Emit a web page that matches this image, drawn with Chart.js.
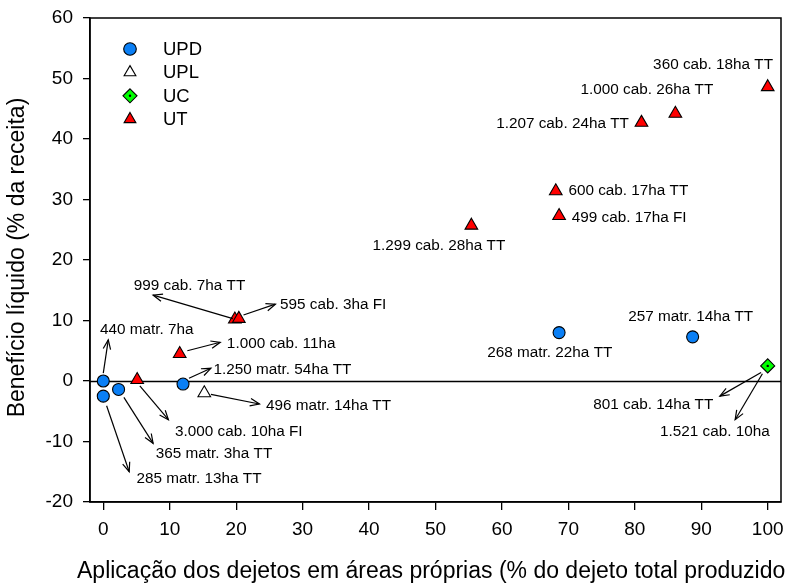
<!DOCTYPE html>
<html>
<head>
<meta charset="utf-8">
<script src="https://cdn.jsdelivr.net/npm/chart.js@4/dist/chart.umd.min.js"></script>
<style>
html,body{margin:0;padding:0;background:#fff;}
#wrap{width:790px;height:583px;}
</style>
</head>
<body>
<div id="wrap"><canvas id="c" width="790" height="583"></canvas></div>
<script>
// ---- data ----
const xTicks = [0, 10, 20, 30, 40, 50, 60, 70, 80, 90, 100];
const yTicks = [-20, -10, 0, 10, 20, 30, 40, 50, 60];
const seriesNames = ['UPD', 'UPL', 'UC', 'UT'];

const updX = [0, 0, 2.3, 12.0, 68.6, 88.7];
const updY = [0, -2.5, -1.4, -0.5, 8.0, 7.3];
const uplX = [15.2];
const uplY = [-2.0];
const ucX = [100];
const ucY = [2.5];
const utX = [5.1, 11.5, 19.8, 20.4, 55.4, 68.1, 68.6, 81.0, 86.1, 100];
const utY = [0.2, 4.5, 10.2, 10.3, 25.7, 31.4, 27.3, 42.7, 44.2, 48.6];

const xTitle = 'Aplicação dos dejetos em áreas próprias (% do dejeto total produzido';
const yTitle = 'Benefício líquido (% da receita)';

// point labels (text anchor in data units) and arrows (tail -> head, data units)
const noteText = ['360 cab. 18ha TT', '1.000 cab. 26ha TT', '1.207 cab. 24ha TT', '600 cab. 17ha TT',
  '499 cab. 17ha FI', '1.299 cab. 28ha TT', '999 cab. 7ha TT', '595 cab. 3ha FI', '440 matr. 7ha',
  '1.000 cab. 11ha', '1.250 matr. 54ha TT', '496 matr. 14ha TT', '3.000 cab. 10ha FI',
  '365 matr. 3ha TT', '285 matr. 13ha TT', '268 matr. 22ha TT', '257 matr. 14ha TT',
  '801 cab. 14ha TT', '1.521 cab. 10ha'];
const noteX = [100.8, 91.8, 79.1, 70.0, 70.5, 60.5, 4.6, 26.6, -0.5, 18.6, 16.6, 24.5, 10.8, 7.9, 5.0, 57.8, 79.0, 91.8, 100.3];
const noteY = [52.2, 48.2, 42.5, 31.4, 26.9, 22.4, 15.75, 12.6, 8.5, 6.2, 1.9, -4.1, -8.4, -12.1, -16.2, 4.6, 10.6, -4.0, -8.4];
const noteAlign = ['right', 'right', 'right', 'left', 'left', 'right', 'left', 'left', 'left', 'left', 'left', 'left', 'left', 'left', 'left', 'left', 'left', 'right', 'right'];
const arrowFromX = [null, null, null, null, null, null, 19.5, 21.1, 0.0, 12.65, 12.9, 16.2, 5.5, 3.1, 0.5, null, null, 99.0, 99.2];
const arrowFromY = [null, null, null, null, null, null, 10.3, 10.9, 1.3, 5.0, 0.45, -2.2, -0.8, -2.7, -4.1, null, null, 1.4, 1.2];
const arrowToX = [null, null, null, null, null, null, 7.5, 25.9, 0.75, 17.6, 16.2, 23.5, 9.8, 7.5, 3.9, null, null, 92.8, 95.1];
const arrowToY = [null, null, null, null, null, null, 14.2, 12.7, 6.8, 6.4, 2.1, -3.8, -6.4, -10.3, -15.0, null, null, -2.5, -6.4];

// ---- styles ----
const FONT = '"Liberation Sans", Arial, Helvetica, sans-serif';
const BLUE = '#0a7ff5';
const RED = '#ff0000';
const GREEN = '#00ff00';

function pts(xs, ys) { return xs.map((x, i) => ({ x: x, y: ys[i] })); }

const styles = [
  { pointStyle: 'circle', radius: 6, bg: BLUE },
  { pointStyle: 'triangle', radius: 7.3, bg: '#ffffff' },
  { pointStyle: 'rectRot', radius: 7, bg: GREEN },
  { pointStyle: 'triangle', radius: 7.3, bg: RED }
];
const allData = [pts(updX, updY), pts(uplX, uplY), pts(ucX, ucY), pts(utX, utY)];

const datasets = seriesNames.map((n, i) => ({
  label: n,
  data: allData[i],
  pointStyle: styles[i].pointStyle,
  pointRadius: styles[i].radius,
  pointBackgroundColor: styles[i].bg,
  pointBorderColor: '#000',
  pointBorderWidth: 1.1,
  showLine: false
}));

function drawMarker(ctx, style, x, y, r, bg) {
  ctx.save();
  ctx.fillStyle = bg; ctx.strokeStyle = '#000'; ctx.lineWidth = 1.1;
  ctx.beginPath();
  if (style === 'circle') {
    ctx.arc(x, y, r, 0, Math.PI * 2);
  } else if (style === 'triangle') {
    for (let k = 0; k < 3; k++) {
      const a = k * 2 * Math.PI / 3;
      const px = x + Math.sin(a) * r, py = y - Math.cos(a) * r;
      if (k === 0) ctx.moveTo(px, py); else ctx.lineTo(px, py);
    }
    ctx.closePath();
  } else {
    ctx.moveTo(x, y - r); ctx.lineTo(x + r, y); ctx.lineTo(x, y + r); ctx.lineTo(x - r, y); ctx.closePath();
  }
  ctx.fill(); ctx.stroke();
  if (style === 'rectRot') {
    ctx.beginPath(); ctx.fillStyle = '#000'; ctx.arc(x, y, 1.2, 0, Math.PI * 2); ctx.fill();
  }
  ctx.restore();
}

const decor = {
  id: 'decor',
  beforeDatasetsDraw(chart) {
    const { ctx, chartArea: a, scales } = chart;
    ctx.save();
    ctx.strokeStyle = '#000';
    ctx.lineWidth = 1.5;
    ctx.strokeRect(a.left, a.top, a.right - a.left, a.bottom - a.top);
    const y0 = Math.round(scales.y.getPixelForValue(0)) + 0.5;
    ctx.lineWidth = 1.3;
    ctx.beginPath(); ctx.moveTo(a.left, y0); ctx.lineTo(a.right, y0); ctx.stroke();
    ctx.restore();
  },
  afterDatasetsDraw(chart) {
    const { ctx, scales } = chart;
    const sx = scales.x, sy = scales.y;
    ctx.save();
    // dots inside the diamonds
    chart.getDatasetMeta(2).data.forEach(el => {
      ctx.beginPath(); ctx.fillStyle = '#000'; ctx.arc(el.x, el.y, 1.2, 0, Math.PI * 2); ctx.fill();
    });
    // arrows
    ctx.strokeStyle = '#000';
    ctx.lineWidth = 1.2;
    for (let i = 0; i < noteText.length; i++) {
      if (arrowFromX[i] === null) continue;
      const x1 = sx.getPixelForValue(arrowFromX[i]), y1 = sy.getPixelForValue(arrowFromY[i]);
      const x2 = sx.getPixelForValue(arrowToX[i]), y2 = sy.getPixelForValue(arrowToY[i]);
      ctx.beginPath(); ctx.moveTo(x1, y1); ctx.lineTo(x2, y2); ctx.stroke();
      const ang = Math.atan2(y2 - y1, x2 - x1);
      const L = 10, h = 0.38;
      ctx.beginPath();
      ctx.moveTo(x2 - L * Math.cos(ang - h), y2 - L * Math.sin(ang - h));
      ctx.lineTo(x2, y2);
      ctx.lineTo(x2 - L * Math.cos(ang + h), y2 - L * Math.sin(ang + h));
      ctx.stroke();
    }
    // labels
    ctx.fillStyle = '#000';
    ctx.font = '15.3px ' + FONT;
    ctx.textBaseline = 'middle';
    for (let i = 0; i < noteText.length; i++) {
      ctx.textAlign = noteAlign[i];
      ctx.fillText(noteText[i], sx.getPixelForValue(noteX[i]), sy.getPixelForValue(noteY[i]));
    }
    ctx.restore();
  },
  afterDraw(chart) {
    const { ctx, chartArea: a } = chart;
    ctx.save();
    // legend
    ctx.font = '18.5px ' + FONT;
    ctx.textBaseline = 'middle';
    ctx.textAlign = 'left';
    ctx.fillStyle = '#000';
    seriesNames.forEach((n, i) => {
      const y = a.top + 31 + i * 23.4;
      drawMarker(ctx, styles[i].pointStyle, a.left + 40, y, i === 0 ? 6.3 : (i === 2 ? 7 : 6.8), styles[i].bg);
      ctx.fillStyle = '#000';
      ctx.fillText(n, a.left + 73, y + 1);
    });
    // axis titles
    ctx.font = '23px ' + FONT;
    ctx.textAlign = 'left';
    ctx.textBaseline = 'middle';
    ctx.fillText(xTitle, 77, 571.5);
    ctx.translate(18, 257.5);
    ctx.rotate(-Math.PI / 2);
    ctx.textAlign = 'center';
    ctx.fillText(yTitle, 0, 0);
    ctx.restore();
  }
};

new Chart(document.getElementById('c'), {
  type: 'scatter',
  data: { datasets: datasets },
  options: {
    responsive: false,
    animation: false,
    events: [],
    layout: { padding: { top: 18, right: 9, left: 0, bottom: 0 } },
    plugins: { legend: { display: false }, tooltip: { enabled: false }, title: { display: false } },
    scales: {
      x: {
        type: 'linear', min: -2, max: 102,
        afterBuildTicks: s => { s.ticks = xTicks.map(v => ({ value: v })); },
        afterFit: s => { s.height = 81; s.paddingLeft = 0; s.paddingRight = 0; },
        grid: { drawOnChartArea: false, drawTicks: true, tickLength: 8, color: '#000', lineWidth: 1.3 },
        border: { display: true, color: '#000', width: 1.5 },
        ticks: { color: '#000', font: { size: 19, family: FONT }, padding: 8, maxRotation: 0, autoSkip: false }
      },
      y: {
        type: 'linear', min: -20, max: 60,
        afterBuildTicks: s => { s.ticks = yTicks.map(v => ({ value: v })); },
        afterFit: s => { s.width = 90; s.paddingTop = 0; s.paddingBottom = 0; },
        grid: { drawOnChartArea: false, drawTicks: true, tickLength: 7, color: '#000', lineWidth: 1.3 },
        border: { display: true, color: '#000', width: 1.5 },
        ticks: { color: '#000', font: { size: 19, family: FONT }, padding: 10, autoSkip: false }
      }
    }
  },
  plugins: [decor]
});
</script>
</body>
</html>
